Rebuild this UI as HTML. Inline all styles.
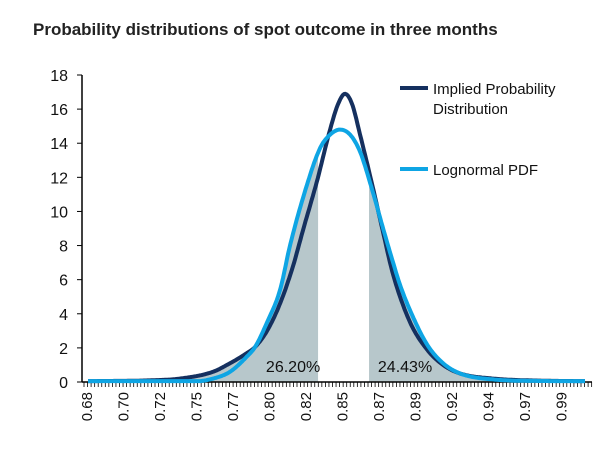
<!DOCTYPE html>
<html><head><meta charset="utf-8"><style>
body{margin:0;background:#fff;font-family:"Liberation Sans",sans-serif;}
svg text{font-family:"Liberation Sans",sans-serif;}
</style></head><body>
<svg id="c" width="607" height="444">
<text x="33" y="35" font-size="17" font-weight="bold" fill="#222">Probability distributions of spot outcome in three months</text>
<g id="g"></g>
</svg>
<script>
const yTicks=[0,2,4,6,8,10,12,14,16,18];
const xTickLabels=["0.68","0.70","0.72","0.75","0.77","0.80","0.82","0.85","0.87","0.89","0.92","0.94","0.97","0.99"];
const impliedX=[0.6800,0.7199,0.7374,0.7580,0.7686,0.7792,0.7842,0.7917,0.7998,0.8079,0.8141,0.8229,0.8310,0.8360,0.8403,0.8447,0.8497,0.8572,0.8640,0.8703,0.8809,0.8915,0.9015,0.9121,0.9327,0.9620,0.9900];
const impliedY=[0.05,0.1,0.2,0.6,1.1,1.7,2.05,3.0,4.6,6.8,8.9,11.8,14.8,16.3,16.9,16.3,14.5,11.6,8.8,6.3,3.5,1.9,1.0,0.5,0.2,0.08,0.05];
const lognormalX=[0.6800,0.7480,0.7580,0.7686,0.7792,0.7842,0.7917,0.7998,0.8060,0.8154,0.8247,0.8310,0.8372,0.8435,0.8497,0.8559,0.8653,0.8703,0.8746,0.8809,0.8915,0.9015,0.9121,0.9327,0.9620,0.9900];
const lognormalY=[0.05,0.05,0.2,0.6,1.5,2.05,3.5,5.4,8.0,11.2,13.7,14.5,14.8,14.5,13.5,11.7,8.6,7.0,5.7,4.2,2.2,1.1,0.5,0.15,0.06,0.05];
const cuts=[0.8235,0.8553];
const pctLabels=["26.20%","24.43%"];
const X0=88,X1=585,V0=0.68,V1=0.99,Y0=382,YT=75;
const x=v=>X0+(v-V0)/(V1-V0)*(X1-X0);
const y=d=>Y0-d/18*(Y0-YT);
const g=document.getElementById('g');
const NS='http://www.w3.org/2000/svg';
function mk(t,a){const e=document.createElementNS(NS,t);for(const k in a)e.setAttribute(k,a[k]);g.appendChild(e);return e;}
function monotone(xs,ys){const n=xs.length,d=[],m=[];for(let i=0;i<n-1;i++)d.push((ys[i+1]-ys[i])/(xs[i+1]-xs[i]));
 m[0]=d[0];m[n-1]=d[n-2];for(let i=1;i<n-1;i++){m[i]=(d[i-1]*d[i]<=0)?0:(d[i-1]+d[i])/2;}
 for(let i=0;i<n-1;i++){if(d[i]===0){m[i]=0;m[i+1]=0;continue;}const a=m[i]/d[i],b=m[i+1]/d[i],s=a*a+b*b;if(s>9){const t=3/Math.sqrt(s);m[i]=t*a*d[i];m[i+1]=t*b*d[i];}}
 return v=>{let i=0;while(i<n-2&&v>xs[i+1])i++;const h=xs[i+1]-xs[i],t=Math.min(1,Math.max(0,(v-xs[i])/h));const t2=t*t,t3=t2*t;
  return Math.max(0,(2*t3-3*t2+1)*ys[i]+(t3-2*t2+t)*h*m[i]+(-2*t3+3*t2)*ys[i+1]+(t3-t2)*h*m[i+1]);};}
const fI=monotone(impliedX,impliedY),fL=monotone(lognormalX,lognormalY);
[[V0,cuts[0]],[cuts[1],V1]].forEach((r,i)=>{
 let pts=[];const n=200;for(let k=0;k<=n;k++){const v=r[0]+(r[1]-r[0])*k/n;pts.push([x(v),y(Math.max(fI(v),fL(v)))]);}
 const d='M'+x(r[0])+','+Y0+' L'+pts.map(p=>p[0].toFixed(1)+','+p[1].toFixed(1)).join(' L')+' L'+x(r[1])+','+Y0+'Z';
 const e=mk('path',{d:d,fill:'#b7c7cb'});
 
 
});
const ax=mk('line',{x1:82,y1:YT,x2:82,y2:Y0,stroke:'#000','stroke-width':1.5});

yTicks.forEach(t=>{mk('line',{x1:77,x2:82,y1:y(t),y2:y(t),stroke:'#000'});
 const tx=mk('text',{x:68,y:y(t)+6,'font-size':16,'text-anchor':'end',fill:'#111'});tx.textContent=t;
 });
const xa=mk('line',{x1:82,y1:Y0,x2:592,y2:Y0,stroke:'#000','stroke-width':1.5});

for(let px=84;px<=592;px+=3.55){mk('line',{x1:px,x2:px,y1:Y0,y2:Y0+5,stroke:'#000','stroke-width':0.8});}
xTickLabels.forEach((l,i)=>{const px=87+i*36.5;
 const tx=mk('text',{x:0,y:0,'font-size':15,'text-anchor':'end',fill:'#111',transform:`translate(${px+5},392) rotate(-90)`});tx.textContent=l;
 });
function line(f,col,name){const p=[];for(let k=0;k<=400;k++){const v=V0+(V1-V0)*k/400;p.push([x(v),y(f(v))]);}
 const e=mk('path',{d:'M'+p.map(q=>q[0].toFixed(1)+','+q[1].toFixed(1)).join(' L'),fill:'none',stroke:col,'stroke-width':4,'stroke-linejoin':'round'});
 }
line(fI,'#15305f','implied-probability-line');
line(fL,'#0ea5e4','lognormal-pdf-line');
[x(cuts[0])-25,x(cuts[1])+36].forEach((px,i)=>{const tx=mk('text',{x:px,y:372,'font-size':16,'text-anchor':'middle',fill:'#111'});tx.textContent=pctLabels[i];
 });
const l1=mk('line',{x1:400,x2:428,y1:88,y2:88,stroke:'#15305f','stroke-width':4});

const t1=mk('text',{x:433,y:94,'font-size':15,fill:'#111'});t1.textContent='Implied Probability';

const t2=mk('text',{x:433,y:114,'font-size':15,fill:'#111'});t2.textContent='Distribution';

const l2=mk('line',{x1:400,x2:428,y1:169,y2:169,stroke:'#0ea5e4','stroke-width':4});

const t3=mk('text',{x:433,y:175,'font-size':15,fill:'#111'});t3.textContent='Lognormal PDF';

</script>
</body></html>
